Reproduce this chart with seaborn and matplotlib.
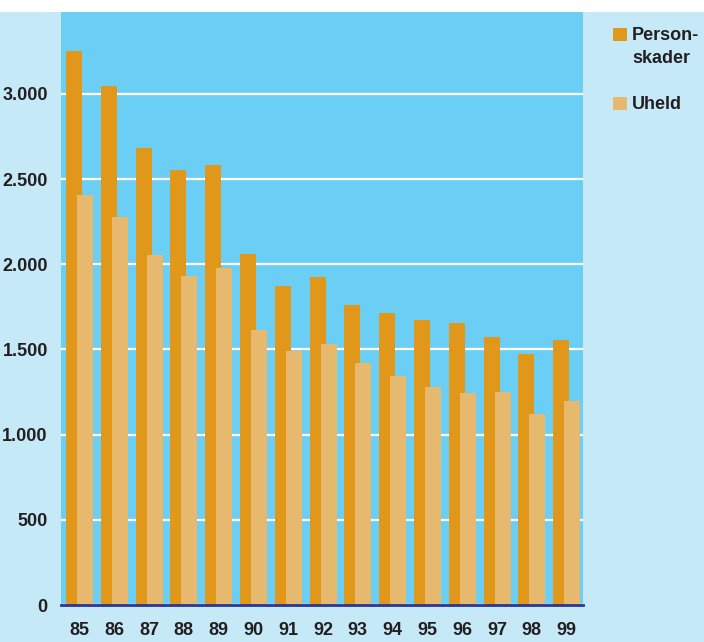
import numpy as np
import pandas as pd
import seaborn as sns
from matplotlib import pyplot as plt
from matplotlib.patches import Rectangle
from matplotlib.ticker import FuncFormatter

# Data
years = [85, 86, 87, 88, 89, 90, 91, 92, 93, 94, 95, 96, 97, 98, 99]
personskader = [3253, 3047, 2682, 2553, 2582, 2059, 1871, 1924, 1759, 1712, 1671, 1653, 1571, 1476, 1553]
uheld = [2404, 2276, 2053, 1929, 1976, 1612, 1490, 1533, 1419, 1347, 1280, 1247, 1251, 1124, 1200]
y_ticks = [0, 500, 1000, 1500, 2000, 2500, 3000]
legend_labels = ["Person-\nskader", "Uheld"]

# Colours
dark_orange = "#e19719"
light_orange = "#e6b96f"
axes_blue = "#6bcff5"
fig_blue = "#c6e9f8"
text_col = "#231f20"

plt.rcParams["font.family"] = ["Liberation Sans Narrow", "Liberation Sans", "DejaVu Sans"]
plt.rcParams["font.weight"] = "bold"

W, H = 704, 642
fig = plt.figure(figsize=(W / 100, H / 100), dpi=100, facecolor="white")
# light blue area below the white top strip
fig.patches.append(Rectangle((0, 0), 1, 1 - 12 / H, transform=fig.transFigure,
                             facecolor=fig_blue, edgecolor="none", zorder=-10))

ax = fig.add_axes([61 / W, 37 / H, 522 / W, 593 / H])
ax.set_facecolor(axes_blue)

df = pd.DataFrame({"year": years, "personskader": personskader, "uheld": uheld})

# two overlapping bar series, dark one left and behind
sns.barplot(x=df["year"] - 0.155, y=df["personskader"], native_scale=True, width=0.46,
            color=dark_orange, saturation=1, errorbar=None, linewidth=0, ax=ax, zorder=2)
sns.barplot(x=df["year"] + 0.16, y=df["uheld"], native_scale=True, width=0.46,
            color=light_orange, saturation=1, errorbar=None, linewidth=0, ax=ax, zorder=3)

ax.set_xlim(years[0] - 0.53, years[-1] + 0.47)
ax.set_ylim(0, 3481)
ax.set_xticks(years)
ax.set_xticklabels([str(y) for y in years])
ax.set_yticks(y_ticks)
ax.yaxis.set_major_formatter(FuncFormatter(lambda v, p: f"{v:,.0f}".replace(",", ".")))
ax.set_xlabel("")
ax.set_ylabel("")

ax.grid(axis="y", color="white", linewidth=1.6)
ax.grid(axis="x", visible=False)
ax.set_axisbelow(True)

for side in ["top", "left", "right"]:
    ax.spines[side].set_visible(False)
ax.spines["bottom"].set_color("#2b3593")
ax.spines["bottom"].set_linewidth(2)
ax.spines["bottom"].set_zorder(5)

ax.tick_params(axis="both", length=0, labelsize=13, labelcolor=text_col)
ax.tick_params(axis="y", pad=9.5)
ax.tick_params(axis="x", pad=12.5)
for lab in ax.get_xticklabels() + ax.get_yticklabels():
    lab.set_fontweight("bold")

# legend to the right of the plot
leg_colors = [dark_orange, light_orange]
leg_tops = [28, 97]
for lab, col, top in zip(legend_labels, leg_colors, leg_tops):
    fig.patches.append(Rectangle((613 / W, 1 - (top + 13) / H), 14 / W, 13 / H,
                                 transform=fig.transFigure, facecolor=col, edgecolor="none"))
    fig.text(632 / W, 1 - (top - 1) / H, lab, ha="left", va="top", fontsize=13,
             fontweight="bold", color=text_col, linespacing=1.45)

fig.savefig("out.png", dpi=100, facecolor=fig.get_facecolor())
